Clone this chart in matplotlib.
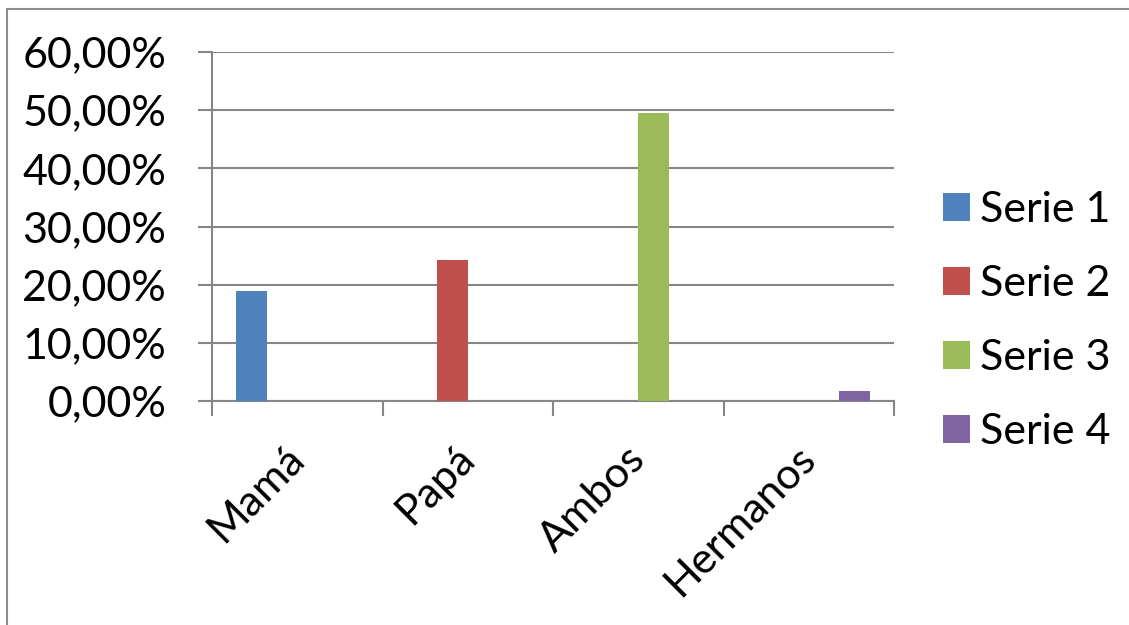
import matplotlib
matplotlib.use("Agg")
import matplotlib.pyplot as plt
from matplotlib.patches import Patch, Rectangle
from matplotlib.ticker import FuncFormatter, FixedLocator
import matplotlib.transforms as mtransforms
import numpy as np

categories = ["Mamá", "Papá", "Ambos", "Hermanos"]
series_names = ["Serie 1", "Serie 2", "Serie 3", "Serie 4"]
serie1 = [18.9, 0, 0, 0]
serie2 = [0, 24.2, 0, 0]
serie3 = [0, 0, 49.5, 0]
serie4 = [0, 0, 0, 1.7]
y_ticks = [0, 10, 20, 30, 40, 50, 60]
colors = ["#4F81BD", "#C0504D", "#9BBB59", "#8064A2"]

plt.rcParams['font.family'] = ['Lato', 'DejaVu Sans']
FS = 31
W, H = 1129, 625
fig = plt.figure(figsize=(W / 100, H / 100), dpi=100)
fig.patch.set_facecolor("white")

# outer chart border
fig.add_artist(Rectangle((7 / W, -0.1), 1.2, 1 - 9 / H + 0.1, transform=fig.transFigure,
                         fill=False, edgecolor="#8c8c8c", linewidth=1.5))

ax = fig.add_axes([212 / W, 1 - 401 / H, (894 - 212) / W, (401 - 52) / H])
x = np.arange(len(categories))
width = 0.18
all_series = [serie1, serie2, serie3, serie4]
for i, (vals, name, c) in enumerate(zip(all_series, series_names, colors)):
    ax.bar(x + (i - 1.5) * width, vals, width=width, color=c, label=name, zorder=3)

ax.set_xlim(-0.5, len(categories) - 0.5)
ax.set_ylim(0, 60)
ax.set_yticks(y_ticks)
ax.yaxis.set_major_formatter(FuncFormatter(lambda v, p: f"{v:.2f}".replace(".", ",") + "%"))
ax.grid(axis="y", color="#868686", linewidth=1.5, zorder=0)
ax.set_axisbelow(True)

ax.set_xticks(x)
ax.set_xticklabels(categories, rotation=45, ha="right", rotation_mode="anchor", fontsize=FS)
ax.tick_params(axis="x", which="major", length=0, pad=18)
offset = mtransforms.ScaledTranslation(-13 / 100, -13 / 100, fig.dpi_scale_trans)
for lbl in ax.get_xticklabels():
    lbl.set_transform(lbl.get_transform() + offset)
ax.xaxis.set_minor_locator(FixedLocator(np.arange(-0.5, len(categories), 1.0)))
ax.tick_params(axis="x", which="minor", length=11, width=1.5, color="#868686", direction="out")
ax.tick_params(axis="y", length=10, width=1.5, color="#868686", labelsize=FS, pad=23)

for s in ["top", "right"]:
    ax.spines[s].set_visible(False)
for s in ["left", "bottom"]:
    ax.spines[s].set_color("#868686")
    ax.spines[s].set_linewidth(1.5)

handles = [Patch(facecolor=c, edgecolor="none") for c in colors]
leg = fig.legend(handles, series_names, loc="center left", bbox_to_anchor=(943 / W, 1 - 321 / H),
                 frameon=False, fontsize=FS, handlelength=0.62, handleheight=0.62,
                 handletextpad=0.25, labelspacing=0.84, borderpad=0, borderaxespad=0)

fig.savefig("out.png", dpi=100)
